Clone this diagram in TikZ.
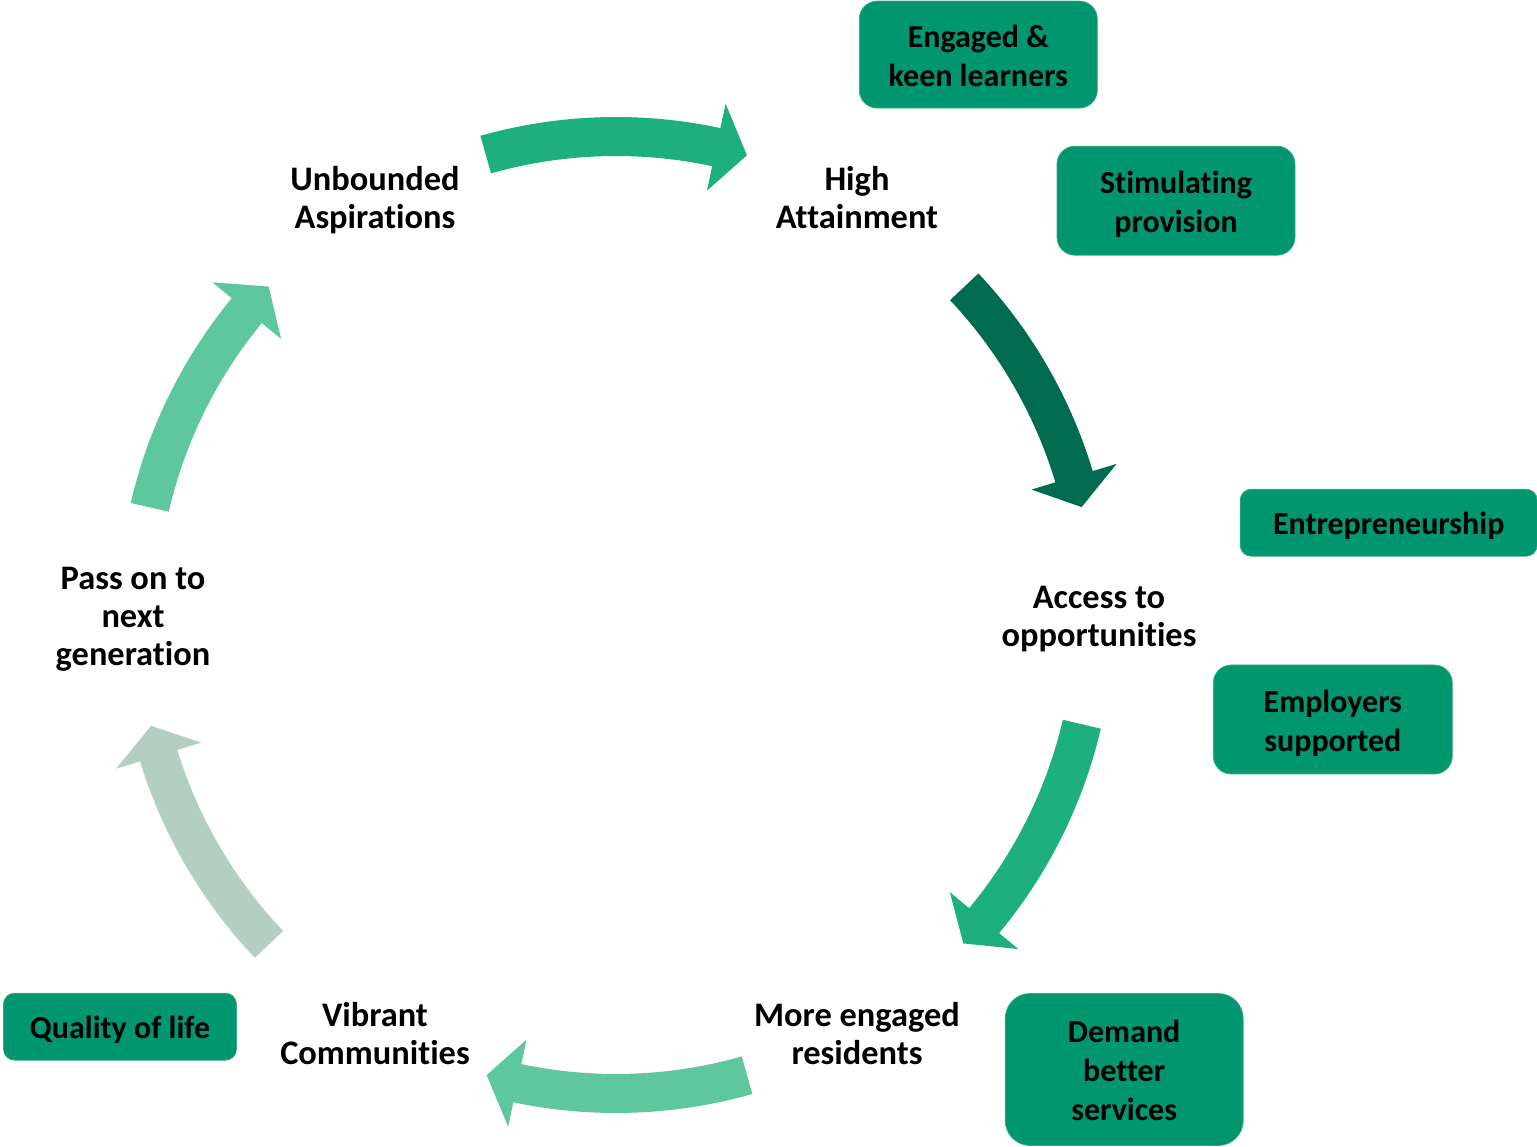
\documentclass[tikz,border=0pt]{standalone}
\usepackage{fontspec}
\setmainfont[Ligatures=NoCommon]{Carlito}
\definecolor{arrowmid}{RGB}{29,175,125}
\definecolor{arrowdark}{RGB}{0,107,79}
\definecolor{arrowlight}{RGB}{94,199,157}
\definecolor{arrowpale}{RGB}{179,207,193}
\definecolor{boxgreen}{RGB}{0,150,112}
\definecolor{boxedge}{RGB}{60,170,135}
% curved block arrow around the centre: colour, tail angle, head-base angle, tip angle
\newcommand\cyclearrow[4]{%
  \fill[#1] (#2:498pt) arc[start angle=#2, end angle=#3, radius=498pt]
    -- (#3:523pt) -- (#4:478pt) -- (#3:434pt) -- (#3:459pt)
    arc[start angle=#3, end angle=#2, radius=459pt] -- cycle;}
% taller first-line strut, lowers the text a little inside its node
\newcommand\tstrut{\rule{0pt}{\dimexpr0.7\baselineskip+9pt\relax}}
\begin{document}
\begin{tikzpicture}[x=1pt,y=1pt,
  steplabel/.style={font=\bfseries\fontsize{34.4}{38}\selectfont, align=center, text=black, inner sep=0pt},
  greenbox/.style={fill=boxgreen, draw=boxedge, line width=0.8pt, rounded corners=#1,
    font=\bfseries\fontsize{32}{39}\selectfont, align=center, text=black, inner sep=0pt}]
\useasboundingbox (-616,-532) rectangle (921,615);
% cycle arrows
\cyclearrow{arrowmid}{105.8}{77.9}{74.1}
\cyclearrow{arrowdark}{43.3}{16.8}{13.05}
\cyclearrow{arrowmid}{-13.2}{-39.7}{-43.4}
\cyclearrow{arrowlight}{-74.1}{-101.9}{-105.7}
\cyclearrow{arrowpale}{-136.5}{-162.9}{-166.6}
\cyclearrow{arrowlight}{167}{140.5}{136.6}
% cycle labels
\node[steplabel] (asp) at (-241,418) {\tstrut Unbounded\\Aspirations\strut};
\node[steplabel] (att) at (241,418) {\tstrut High\\Attainment\strut};
\node[steplabel] (acc) at (483,0) {\tstrut Access to\\opportunities\strut};
\node[steplabel] (res) at (241,-418) {\tstrut More engaged\\residents\strut};
\node[steplabel] (com) at (-241,-418) {\tstrut Vibrant\\Communities\strut};
\node[steplabel] (gen) at (-483,0) {\tstrut Pass on to\\next\\generation\strut};
% side boxes
\node[greenbox=18pt, minimum width=238pt, minimum height=107pt] (eng) at (362.3,560.4) {\tstrut Engaged \&\\keen learners\strut};
\node[greenbox=18pt, minimum width=238pt, minimum height=109pt] (sti) at (560,414.3) {\tstrut Stimulating\\provision\strut};
\node[greenbox=11pt, minimum width=297pt, minimum height=67pt] (ent) at (772.7,92.3) {\tstrut Entrepreneurship\strut};
\node[greenbox=18pt, minimum width=239pt, minimum height=109pt] (emp) at (716.8,-104.5) {\tstrut Employers\\supported\strut};
\node[greenbox=25pt, minimum width=238pt, minimum height=152pt] (dem) at (508.2,-454.5) {\tstrut Demand\\better\\services\strut};
\node[greenbox=11pt, minimum width=233pt, minimum height=67pt] (qol) at (-496,-411.7) {\tstrut Quality of life\strut};
\end{tikzpicture}
\end{document}
